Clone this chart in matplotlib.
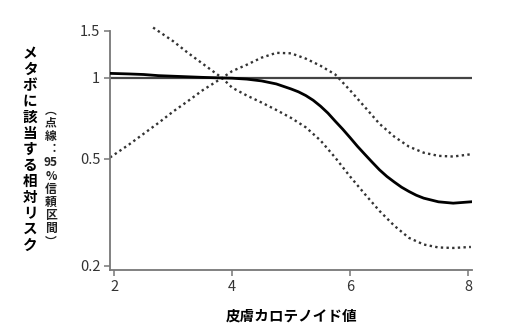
import numpy as np
import matplotlib
matplotlib.use("Agg")
import matplotlib.pyplot as plt

plt.rcParams['font.family'] = ['Noto Sans CJK JP', 'DejaVu Sans']

# data (x = skin carotenoid score, y = relative risk)
x_est = [1.93, 2.25, 2.5, 2.75, 3.0, 3.25, 3.5, 3.83, 4.0, 4.25, 4.5, 4.75,
         5.0, 5.125, 5.25, 5.375, 5.5, 5.625, 5.75, 5.875, 6.0, 6.125, 6.25, 6.375,
         6.5, 6.625, 6.75, 6.875, 7.0, 7.125, 7.25, 7.5, 7.75, 8.05]
rr_est = [1.04, 1.035, 1.03, 1.02, 1.015, 1.01, 1.005, 1.0, 0.998, 0.99, 0.975, 0.95,
          0.91, 0.888, 0.86, 0.826, 0.785, 0.74, 0.69, 0.645, 0.60, 0.557, 0.52, 0.486,
          0.455, 0.43, 0.41, 0.392, 0.378, 0.366, 0.357, 0.346, 0.342, 0.346]
x_up = [1.93, 2.25, 2.5, 2.75, 3.0, 3.25, 3.5, 3.83, 4.0, 4.25, 4.5, 4.75,
        5.0, 5.25, 5.5, 5.75, 6.0, 6.25, 6.5, 6.75, 7.0, 7.25, 7.5, 7.75, 8.05]
rr_upper = [0.506, 0.565, 0.62, 0.68, 0.75, 0.82, 0.90, 1.0, 1.06, 1.12, 1.19, 1.24,
            1.235, 1.18, 1.11, 1.03, 0.90, 0.78, 0.675, 0.605, 0.555, 0.527, 0.513, 0.51, 0.52]
x_low = [2.66, 3.0, 3.25, 3.5, 3.83, 4.0, 4.25, 4.5, 4.75, 5.0, 5.25, 5.5, 5.75,
         6.0, 6.25, 6.5, 6.75, 7.0, 7.25, 7.5, 7.75, 8.05]
rr_lower = [1.54, 1.37, 1.24, 1.13, 1.0, 0.92, 0.86, 0.81, 0.76, 0.71, 0.655, 0.585, 0.505,
            0.43, 0.37, 0.32, 0.282, 0.254, 0.24, 0.234, 0.233, 0.235]

xticks = [2, 4, 6, 8]
yticks = [0.2, 0.5, 1, 1.5]
ytick_labels = ['0.2', '0.5', '1', '1.5']

fig = plt.figure(figsize=(5.12, 3.30), dpi=100)
ax = fig.add_axes([0.215, 0.182, 0.707, 0.748])

dots = (0, (1, 1.4))
ax.axhline(1, color='#444444', lw=1.6, zorder=1)
ax.plot(x_est, rr_est, color='black', lw=2.0, zorder=3)
ax.plot(x_up, rr_upper, color='#333333', lw=1.7, linestyle=dots, zorder=2)
ax.plot(x_low, rr_lower, color='#333333', lw=1.7, linestyle=dots, zorder=2)

ax.set_yscale('log')
ax.set_xlim(1.93, 8.07)
ax.set_ylim(0.193, 1.6)
ax.set_xticks(xticks)
ax.set_yticks(yticks)
ax.set_yticklabels(ytick_labels)
ax.yaxis.set_minor_locator(matplotlib.ticker.NullLocator())

for s in ['top', 'right']:
    ax.spines[s].set_visible(False)
for s in ['left', 'bottom']:
    ax.spines[s].set_color('#777777')
    ax.spines[s].set_linewidth(1.3)
ax.spines['left'].set_bounds(0.193, 1.5)
ax.tick_params(axis='both', color='#777777', length=4, width=1.1,
               labelsize=10.5, labelcolor='#333333', pad=3)

ax.set_xlabel('皮膚カロテノイド値', fontsize=10.5, fontweight='bold', labelpad=10)

# vertical (tategaki) y label, one glyph per line
main_lbl = 'メタボに該当する相対リスク'
fig.text(30 / 512, 1 - 149 / 330, '\n'.join(main_lbl), ha='center', va='center',
         fontsize=10.5, fontweight='bold', linespacing=1.0, multialignment='center')
sub_lbl = ['︵', '点', '線', '︓', '95', '%', '信', '頼', '区', '間', '︶']
fig.text(51 / 512, 1 - 176 / 330, '\n'.join(sub_lbl), ha='center', va='center',
         fontsize=8.5, fontweight='bold', linespacing=1.02, multialignment='center',
         color='#222222')

fig.savefig('out.png', dpi=100)
